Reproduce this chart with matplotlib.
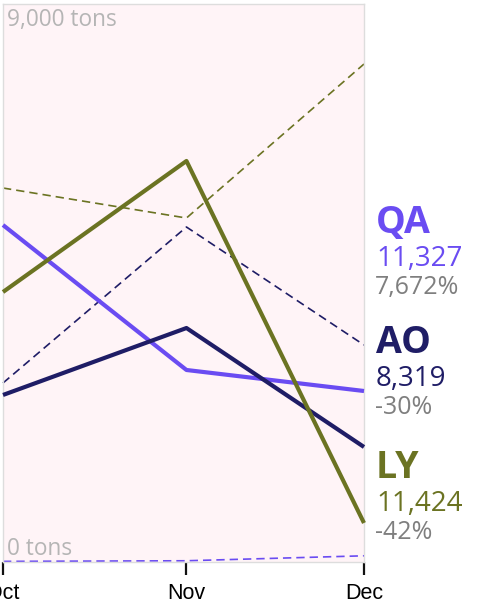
import matplotlib
matplotlib.use("Agg")
import matplotlib.pyplot as plt
import pandas as pd

# Monthly shipments (tons): solid = this season, dashed = last season
months = ["Oct", "Nov", "Dec"]
month_starts = pd.to_datetime(["2023-10-01", "2023-11-01", "2023-12-01"])
series = ["QA", "AO", "LY"]
current = {
    "QA": [5435, 3097, 2758],
    "AO": [2694, 3774, 1855],
    "LY": [4355, 6468, 629],
}
previous = {
    "QA": [10, 20, 100],
    "AO": [2887, 5403, 3500],
    "LY": [6032, 5548, 8032],
}
totals = ["11,327", "8,319", "11,424"]
changes = ["7,672%", "-30%", "-42%"]
colors = {"QA": "#6a4cf2", "AO": "#1f1d66", "LY": "#6b7322"}
y_max = 9000

fig = plt.figure(figsize=(4.83, 6.04), dpi=100)
ax = fig.add_axes([3 / 483, 1 - 562 / 604, 361 / 483, 558 / 604])
ax.set_facecolor("#fff4f7")

for name in series:
    ax.plot(month_starts, previous[name], color=colors[name], lw=1.2,
            ls=(0, (5, 3)), clip_on=False, zorder=2)
for name in series:
    ax.plot(month_starts, current[name], color=colors[name], lw=3.0,
            solid_capstyle="butt", clip_on=False, zorder=3)

ax.set_xlim(month_starts[0], month_starts[-1])
ax.set_ylim(0, y_max)
ax.set_yticks([])
ax.set_xticks(month_starts)
ax.set_xticklabels(months, fontsize=15.5, family="Liberation Sans")
ax.tick_params(axis="x", length=9, width=1.6, color="#111111", pad=6)
for s in ax.spines.values():
    s.set_color("#dddddd")
    s.set_linewidth(1.0)

ax.text(0.012, 0.992, "9,000 tons", transform=ax.transAxes, ha="left", va="top",
        fontsize=16.3, color="#b5b5b5", family="Open Sans")
ax.text(0.012, 0.002, "0 tons", transform=ax.transAxes, ha="left", va="bottom",
        fontsize=16.3, color="#b5b5b5", family="Open Sans")

# End-of-line labels
label_tops = {"QA": 212, "AO": 332, "LY": 457}
for name, tot, chg in zip(series, totals, changes):
    top = label_tops[name]
    fig.text(376 / 483, 1 - (top - 8) / 604, name, ha="left", va="top",
             fontsize=27, fontweight="bold", color=colors[name], family="Open Sans")
    fig.text(376 / 483, 1 - (top + 33) / 604, tot, ha="left", va="top",
             fontsize=20, color=colors[name], family="Open Sans")
    fig.text(375 / 483, 1 - (top + 63) / 604, chg, ha="left", va="top",
             fontsize=18, color="#7f7f7f", family="Open Sans")

fig.savefig("out.png", dpi=100)
